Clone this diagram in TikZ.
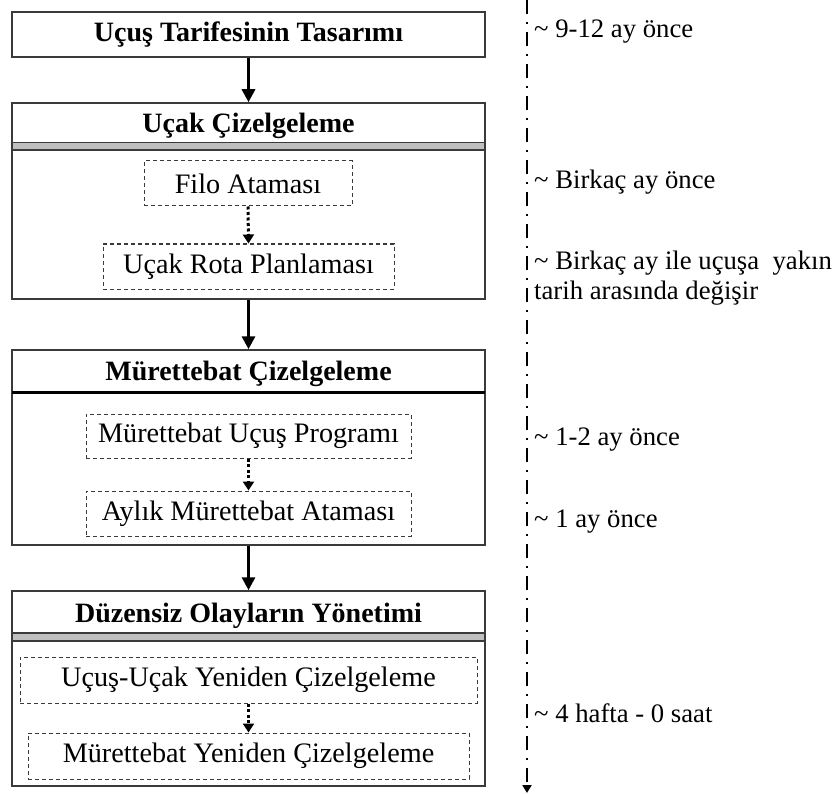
\documentclass[tikz,border=0pt]{standalone}
\usepackage{fontspec}
\setmainfont{Liberation Serif}
\usetikzlibrary{arrows.meta}
\definecolor{bandgray}{HTML}{BFBFBF}
\definecolor{edge}{HTML}{3A3A3A}
\tikzset{
  outerbox/.style={draw=edge, line width=1.5pt, minimum width=473pt, inner sep=0pt},
  titletxt/.style={font=\fontsize{28}{32}\selectfont\bfseries, inner sep=0pt},
  innerbox/.style={draw=edge, line width=1pt, dash pattern=on 4pt off 3pt, inner sep=0pt, font=\fontsize{28.2}{32}\selectfont},
  band/.style={draw=edge, line width=1.2pt, fill=bandgray},
  bigarrow/.style={line width=3pt, -{Triangle[length=13pt,width=13pt]}},
  dotarrow/.style={line width=3pt, dash pattern=on 3pt off 2.5pt, -{Triangle[length=9pt,width=11pt]}},
  timeline/.style={line width=2pt, dash pattern=on 14pt off 8pt on 2pt off 8pt, -{Triangle[length=8pt,width=9pt]}},
  note/.style={anchor=west, inner sep=0pt, font=\fontsize{26.7}{30}\selectfont, align=left}
}
\begin{document}
\begin{tikzpicture}[x=1pt,y=-1pt]
\useasboundingbox (0,0) rectangle (837,794);
% box 1
\node[outerbox, minimum height=45pt, font=\fontsize{28}{32}\selectfont\bfseries] (b1) at (248.5,34.5) {Uçuş Tarifesinin Tasarımı};
% box 2
\node[outerbox, minimum height=196pt] (b2) at (248.5,201) {};
\node[titletxt] (t2) at (248.5,126) {Uçak Çizelgeleme};
\draw[band] (12,142.5) rectangle (485,150);
\node[innerbox, minimum width=208pt, minimum height=45pt] (f1) at (248,183.5) {Filo Atamas\i};
\node[innerbox, minimum width=291pt, minimum height=45pt] (f2) at (248.5,266.5) {Uçak Rota Planlamas\i};
% box 3
\node[outerbox, minimum height=195pt] (b3) at (248.5,447.5) {};
\node[titletxt] (t3) at (248.5,374) {Mürettebat Çizelgeleme};
\draw[line width=3pt, black] (12,392) -- (485,392);
\node[innerbox, minimum width=325pt, minimum height=44pt] (m1) at (248.5,436) {Mürettebat Uçuş Program\i};
\node[innerbox, minimum width=325pt, minimum height=45pt] (m2) at (248.5,513.5) {Ayl\i k Mürettebat Atamas\i};
% box 4
\node[outerbox, minimum height=195pt] (b4) at (248.5,688.5) {};
\node[titletxt] (t4) at (248.5,616) {Düzensiz Olaylar\i n Yönetimi};
\draw[band] (12,633) rectangle (485,641);
\node[innerbox, minimum width=457pt, minimum height=46pt] (u1) at (248.5,680) {Uçuş-Uçak Yeniden Çizelgeleme};
\node[innerbox, minimum width=441pt, minimum height=46pt] (u2) at (248.5,756) {Mürettebat Yeniden Çizelgeleme};
% arrows
\draw[bigarrow] (b1.south) -- (b2.north);
\draw[bigarrow] (b2.south) -- (b3.north);
\draw[bigarrow] (b3.south) -- (b4.north);
\draw[dotarrow] (f1.south) -- (f2.north);
\draw[dotarrow] (m1.south) -- (m2.north);
\draw[dotarrow] (u1.south) -- (u2.north);
% timeline
\coordinate (tl0) at (527,0);
\coordinate (tl1) at (527,793);
\draw[timeline] (tl0) -- (tl1);
\node[note] (n1) at (534,32) {\textasciitilde\ 9-12 ay önce};
\node[note] (n2) at (534,182) {\textasciitilde\ Birkaç ay önce};
\node[note] (n3) at (534,278) {\textasciitilde\ Birkaç ay ile uçuşa\ \ yak\i n\\tarih aras\i nda değişir};
\node[note] (n4) at (534,440) {\textasciitilde\ 1-2 ay önce};
\node[note] (n5) at (534,522) {\textasciitilde\ 1 ay önce};
\node[note] (n6) at (534,713) {\textasciitilde\ 4 hafta - 0 saat};
\end{tikzpicture}
\end{document}
